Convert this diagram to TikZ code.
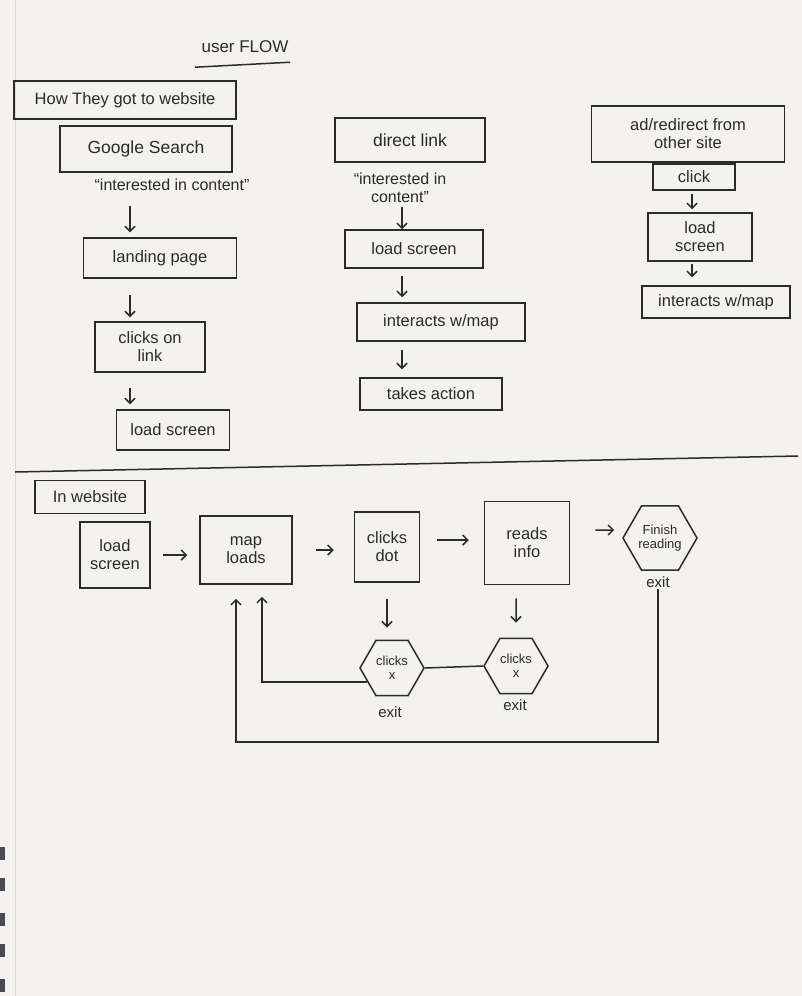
\documentclass[tikz,border=0pt]{standalone}
\usepackage{fontspec}
\setmainfont{Liberation Sans}
\usetikzlibrary{arrows.meta,shapes.geometric,calc}
\definecolor{ink}{HTML}{2B2B2B}
\definecolor{paper}{HTML}{F3F2EC}
\definecolor{pageedge}{HTML}{DCDBD4}
\definecolor{bindercol}{HTML}{4A4A55}
\begin{document}
\begin{tikzpicture}[x=1pt,y=-1pt,
  box/.style={draw=ink, line width=1.5pt, text=ink, align=center, inner sep=2pt, font=\fontsize{16.5}{18}\selectfont},
  lbl/.style={text=ink, align=center, inner sep=1pt, font=\fontsize{16}{18}\selectfont},
  small/.style={text=ink, align=center, inner sep=1pt, font=\fontsize{15}{16}\selectfont},
  hexbox/.style={draw=ink, line width=1.5pt, regular polygon, regular polygon sides=6, inner sep=0pt, text=ink, align=center, font=\fontsize{13}{14.5}\selectfont},
  arr/.style={draw=ink, line width=1.5pt, -{Straight Barb[length=5pt,width=10pt]}},
  ln/.style={draw=ink, line width=1.5pt}]
% page
\fill[paper] (0,0) rectangle (802,996);
\useasboundingbox (0,0) rectangle (802,996);
\draw[draw=pageedge, line width=1pt] (15,0) -- (15,996);
\foreach \yy in {847,878,913,944,979}{\fill[fill=bindercol] (0,\yy) rectangle (5,\yy+13);}

% column coordinates
\coordinate (colA) at (130,0);
\coordinate (colB) at (402,0);
\coordinate (colC) at (692,0);

% title
\node[lbl, font=\fontsize{17}{19}\selectfont] (title) at (245,47) {user FLOW};
\draw[ln] ([xshift=-50pt,yshift=-13pt]title.south) -- ([xshift=45pt,yshift=-8pt]title.south);

% ----- top section -----
\node[box, minimum width=222pt, minimum height=38pt] (how) at (125,100) {How They got to website};

% left column
\node[box, minimum width=172pt, minimum height=46pt, font=\fontsize{17.5}{19}\selectfont] (google) at (146,149) {Google Search};
\node[lbl] (int1) at (172,185) {“interested in content”};
\node[box, minimum width=153pt, minimum height=40pt] (landing) at (160,258) {landing page};
\node[box, minimum width=110pt, minimum height=50pt] (clicks) at (150,347) {clicks on\\link};
\node[box, minimum width=113pt, minimum height=40pt] (load1) at (173,430) {load screen};
\draw[arr, shorten <=14pt, shorten >=5pt] (int1.south -| colA) -- (landing.north -| colA);
\draw[arr, shorten <=16pt, shorten >=4pt] (landing.south -| colA) -- (clicks.north -| colA);
\draw[arr, shorten <=15pt, shorten >=5pt] (clicks.south -| colA) -- (load1.north -| colA);

% middle column
\node[box, minimum width=150pt, minimum height=44pt, font=\fontsize{17.5}{19}\selectfont] (direct) at (410,140) {direct link};
\node[lbl] (int2) at (400,188) {“interested in\\content”};
\node[box, minimum width=138pt, minimum height=38pt] (load2) at (414,249) {load screen};
\node[box, minimum width=168pt, minimum height=38pt] (inter1) at (441,322) {interacts w/map};
\node[box, minimum width=142pt, minimum height=32pt] (takes) at (431,394) {takes action};
\draw[arr, shorten <=3pt, shorten >=0pt] (int2.south -| colB) -- (load2.north -| colB);
\draw[arr, shorten <=7pt, shorten >=5pt] (load2.south -| colB) -- (inter1.north -| colB);
\draw[arr, shorten <=8pt, shorten >=8pt] (inter1.south -| colB) -- (takes.north -| colB);

% right column
\node[box, minimum width=193pt, minimum height=56pt] (ad) at (688,134) {ad/redirect from\\other site};
\node[box, minimum width=82pt, minimum height=26pt] (click) at (694,177) {click};
\node[box, minimum width=104pt, minimum height=48pt] (load3) at (700,237) {load\\screen};
\node[box, minimum width=148pt, minimum height=32pt] (inter2) at (716,302) {interacts w/map};
\draw[arr, shorten <=3pt, shorten >=3pt] (click.south -| colC) -- (load3.north -| colC);
\draw[arr, shorten <=2pt, shorten >=8pt] (load3.south -| colC) -- (inter2.north -| colC);

% divider
\coordinate (divL) at (15,472);
\coordinate (divR) at (798,456);
\draw[ln] (divL) -- (divR);

% ----- bottom section -----
\node[box, minimum width=110pt, minimum height=33pt] (inweb) at (90,497) {In website};
\node[box, minimum width=70pt, minimum height=66pt] (ls) at (115,555) {load\\screen};
\node[box, minimum width=92pt, minimum height=68pt] (map) at (246,550) {map\\loads};
\node[box, minimum width=65pt, minimum height=70pt] (dot) at (387,547) {clicks\\dot};
\node[box, minimum width=85pt, minimum height=83pt] (reads) at (527,543) {reads\\info};
\node[hexbox, minimum size=74pt] (finish) at (660,538) {Finish\\reading};
\node[small] (fexit) at (658,582) {exit};
\node[hexbox, minimum size=64pt] (x1) at (392,668) {clicks\\x};
\node[small] (x1exit) at (390,712) {exit};
\node[hexbox, minimum size=64pt] (x2) at (516,666) {clicks\\x};
\node[small] (x2exit) at (515,705) {exit};

\coordinate (loopA) at (262,0);
\coordinate (loopB) at (236,0);
\coordinate (bottom) at (0,742);

\draw[arr, shorten <=12pt, shorten >=12pt] (ls.east) -- (ls.east -| map.west);
\draw[arr, shorten <=23pt, shorten >=20pt] (map.east) -- (map.east -| dot.west);
\draw[arr, shorten <=17pt, shorten >=15pt] ($(dot.east)+(0,-7)$) -- ($(reads.west)+(0,-3)$);
\draw[arr, shorten <=25pt, shorten >=8pt] ($(reads.east)+(0,-13)$) -- ($(finish.west)+(0,-8)$);
\draw[arr, shorten <=16pt, shorten >=12pt] (dot.south) -- (dot.south |- x1.north);
\draw[arr, shorten <=13pt, shorten >=15pt] (reads.south -| x2) -- (x2.north);
\draw[ln] (x1.east) -- (x2.west);
\draw[arr, shorten >=12pt] (x1.210) -- (x1.210 -| loopA) -- (loopA |- map.south);
\draw[arr, shorten >=14pt] (fexit.south) -- (fexit.south |- bottom) -- (loopB |- bottom) -- (loopB |- map.south);
\end{tikzpicture}
\end{document}
